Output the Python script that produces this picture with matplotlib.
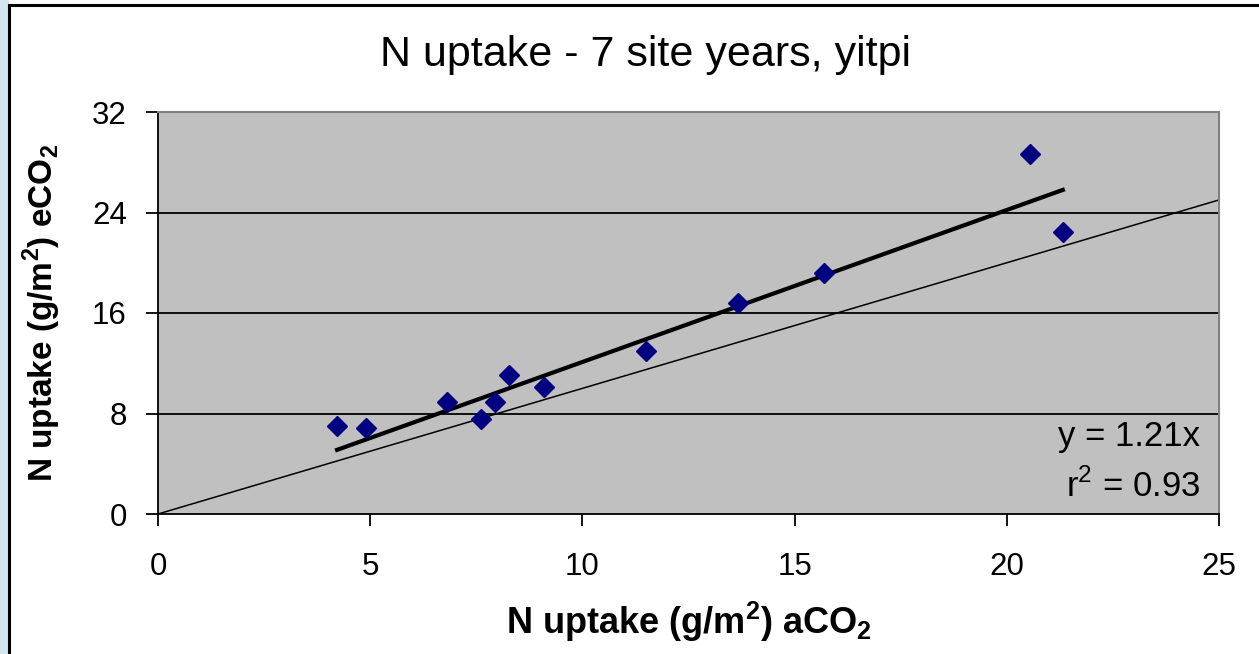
import numpy as np
import matplotlib.pyplot as plt
from matplotlib.patches import Rectangle

plt.rcParams['font.family'] = ['Liberation Sans', 'DejaVu Sans']
plt.rcParams['mathtext.fontset'] = 'custom'
plt.rcParams['mathtext.rm'] = 'Liberation Sans'
plt.rcParams['mathtext.bf'] = 'Liberation Sans:bold'

# data
n_aco2 = [4.22, 4.9, 6.81, 7.61, 7.94, 8.27, 9.1, 11.5, 13.67, 15.69, 20.55, 21.32]
n_eco2 = [7.0, 6.85, 8.9, 7.56, 8.9, 11.07, 10.1, 12.98, 16.8, 19.19, 28.66, 22.45]
slope = 1.21
r2 = 0.93
xticks = [0, 5, 10, 15, 20, 25]
yticks = [0, 8, 16, 24, 32]

fig = plt.figure(figsize=(12.59, 6.54), dpi=100)
fig.patch.set_facecolor('white')

# light blue strip on the left + outer chart frame
fig.patches.append(Rectangle((0, 0), 9 / 1259, 1, transform=fig.transFigure,
                             facecolor='#d2e5f0', edgecolor='none', zorder=-2))
fig.patches.append(Rectangle((9 / 1259, -0.1), 1.2, 1 - 5 / 654 + 0.1,
                             transform=fig.transFigure, facecolor='white',
                             edgecolor='black', linewidth=2.2, zorder=-1))

ax = fig.add_axes([158 / 1259, 1 - 514 / 654, (1219 - 158) / 1259, (514 - 112) / 654])
ax.set_facecolor('#c0c0c0')

for yv in yticks[1:-1]:
    ax.axhline(yv, color='black', linewidth=1.3, zorder=1)

# 1:1 line
ax.plot([0, 25], [0, 25], color='black', linewidth=1.1, zorder=2)
# fitted line through origin over data range
xs = np.array([min(n_aco2), max(n_aco2)])
ax.plot(xs, slope * xs, color='black', linewidth=3.0, zorder=3)

ax.plot(n_aco2, n_eco2, linestyle='none', marker='D', markersize=10,
        color='#000080', zorder=4)

ax.set_xlim(0, 25)
ax.set_ylim(0, 32)
ax.set_xticks(xticks)
ax.set_yticks(yticks)
ax.tick_params(axis='both', labelsize=22.5, length=8.5, width=1.3, direction='out',
               colors='black')
ax.tick_params(axis='y', pad=14)
ax.tick_params(axis='x', pad=19)

for s in ['top', 'right']:
    ax.spines[s].set_color('#808080')
    ax.spines[s].set_linewidth(1.5)
for s in ['left', 'bottom']:
    ax.spines[s].set_color('black')
    ax.spines[s].set_linewidth(1.3)

ax.set_xlabel(r'N uptake (g/m$^\mathbf{2}$) aCO$_\mathbf{2}$', fontsize=26,
              fontweight='bold', labelpad=13)
ax.set_ylabel(r'N uptake (g/m$^\mathbf{2}$) eCO$_\mathbf{2}$', fontsize=24,
              fontweight='bold', labelpad=21)
fig.text(645 / 1259, 1 - 55 / 654, 'N uptake - 7 site years, yitpi',
         fontsize=31, ha='center', va='center')

ax.text(0.982, 0.194, 'y = %.2fx' % slope, transform=ax.transAxes, ha='right',
        va='center', fontsize=25)
ax.text(0.982, 0.07, r'r$^2$ = %.2f' % r2, transform=ax.transAxes, ha='right',
        va='center', fontsize=25)

fig.savefig('out.png', dpi=100)
